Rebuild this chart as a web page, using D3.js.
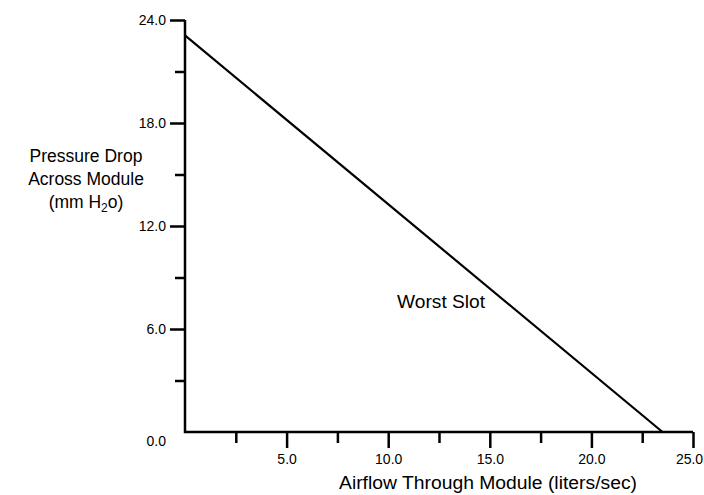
<!DOCTYPE html>
<html>
<head>
<meta charset="utf-8">
<script src="https://cdn.jsdelivr.net/npm/d3@7"></script>
<style>
  body { margin: 0; background: #fff; }
  svg { display: block; font-family: "Liberation Sans", Arial, sans-serif; }
</style>
</head>
<body>
<svg id="chart"></svg>
<script>
// data
const airflow = [0, 23.5];
const pressure = [23.1, 0];
const xMajorTicks = [5, 10, 15, 20, 25];
const xMinorTicks = [2.5, 7.5, 12.5, 17.5, 22.5];
const yMajorTicks = [6, 12, 18, 24];
const yMinorTicks = [3, 9, 15, 21];
const yTitleLines = ["Pressure Drop", "Across Module"];

const width = 704, height = 495;
const svg = d3.select("#chart").attr("width", width).attr("height", height);

const xScale = d3.scaleLinear().domain([0, 25]).range([185, 693]);
const yScale = d3.scaleLinear().domain([0, 24]).range([432, 20]);

// y axis: major ticks (long) with labels, minor ticks (short)
const yMajor = d3.axisLeft(yScale).tickValues(yMajorTicks).tickSize(15).tickPadding(4)
  .tickFormat(d3.format(".1f"));
svg.append("g").attr("transform", `translate(${xScale(0)},0)`).call(yMajor)
  .call(g => g.select(".domain").remove());
const yMinor = d3.axisLeft(yScale).tickValues(yMinorTicks).tickSize(10).tickFormat("");
svg.append("g").attr("transform", `translate(${xScale(0)},0)`).call(yMinor)
  .call(g => g.select(".domain").remove());

// x axis
const xMajor = d3.axisBottom(xScale).tickValues(xMajorTicks).tickSize(16).tickPadding(6)
  .tickFormat(d3.format(".1f"));
svg.append("g").attr("class", "xmajor").attr("transform", `translate(0,${yScale(0)})`).call(xMajor)
  .call(g => g.select(".domain").remove());
const xMinor = d3.axisBottom(xScale).tickValues(xMinorTicks).tickSize(11).tickFormat("");
svg.append("g").attr("transform", `translate(0,${yScale(0)})`).call(xMinor)
  .call(g => g.select(".domain").remove());

svg.selectAll(".tick line").attr("stroke", "#000").attr("stroke-width", 2.5);
svg.selectAll(".tick text").attr("font-size", 14).attr("fill", "#000")
  .attr("font-family", "Liberation Sans, Arial, sans-serif");
// last label sits a little left so it stays inside the picture
svg.selectAll(".xmajor .tick text").filter(d => d === 25).attr("dx", -4);

// axis lines
svg.append("path")
  .attr("d", `M${xScale(0)},${yScale(24)}V${yScale(0)}H${xScale(25)}`)
  .attr("fill", "none").attr("stroke", "#000").attr("stroke-width", 2.5);

// 0.0 label at origin
svg.append("text").attr("x", xScale(0) - 19).attr("y", yScale(0) + 14)
  .attr("text-anchor", "end").attr("font-size", 14).text("0.0");

// the line
const pts = airflow.map((a, i) => [a, pressure[i]]);
svg.append("path").datum(pts)
  .attr("d", d3.line().x(d => xScale(d[0])).y(d => yScale(d[1])))
  .attr("fill", "none").attr("stroke", "#000").attr("stroke-width", 2.2);

svg.append("text").attr("x", xScale(12.6)).attr("y", yScale(7.2))
  .attr("text-anchor", "middle").attr("font-size", 17.5)
  .attr("textLength", 88).attr("lengthAdjust", "spacingAndGlyphs").text("Worst Slot");

// axis titles
svg.append("text").attr("x", 488).attr("y", 489)
  .attr("text-anchor", "middle").attr("font-size", 18)
  .attr("textLength", 298).attr("lengthAdjust", "spacingAndGlyphs")
  .text("Airflow Through Module (liters/sec)");

const yt = svg.append("text").attr("text-anchor", "middle").attr("font-size", 17.5);
yTitleLines.forEach((l, i) => {
  yt.append("tspan").attr("x", 86).attr("y", 162 + i * 23).text(l);
});
yt.append("tspan").attr("x", 86).attr("y", 208).text("(mm H");
yt.append("tspan").attr("font-size", 12).attr("dy", 4).text("2");
yt.append("tspan").attr("dy", -4).text("o)");
</script>
</body>
</html>
